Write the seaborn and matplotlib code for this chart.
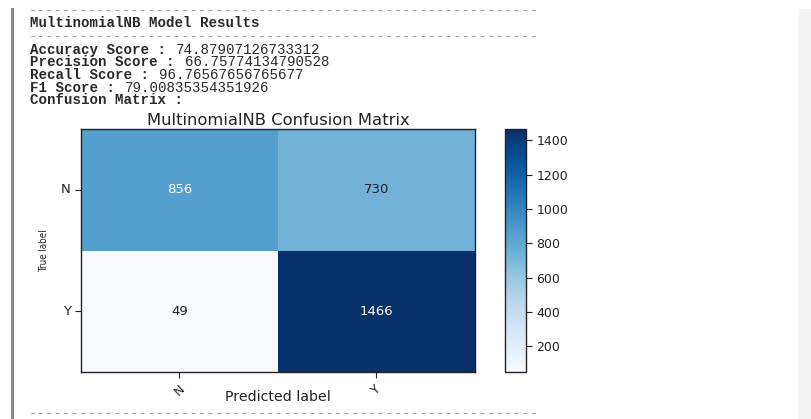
import numpy as np
import pandas as pd
import matplotlib
matplotlib.use("Agg")
import matplotlib.pyplot as plt
from matplotlib.patches import Rectangle
from matplotlib import font_manager
import seaborn as sns

labels = ["N", "Y"]
cm_values = [[856, 730],
             [49, 1466]]
metric_names = ["Accuracy Score", "Precision Score", "Recall Score", "F1 Score"]
metric_values = ["74.87907126733312", "66.75774134790528", "96.76567656765677", "79.00835354351926"]
model_name = "MultinomialNB"

W, H = 812, 419
fig = plt.figure(figsize=(W / 100, H / 100), dpi=100)
fig.patch.set_facecolor("white")

def fx(px):
    return px / W

def fy(py):
    return 1 - py / H

# notebook decorations
fig.add_artist(Rectangle((fx(11), 0), fx(2.5), fy(8), transform=fig.transFigure,
                         facecolor="#8a8a8a", edgecolor="none"))
fig.add_artist(Rectangle((fx(799), 0), fx(13), fy(9), transform=fig.transFigure,
                         facecolor="#f2f2f2", edgecolor="none"))

mono = ["Liberation Mono", "DejaVu Sans Mono"]
tcol = "#2a2a2a"
fs = 10.2
cw = 8.6
dash = "-" * 60
dcol = "#a0a0a0"
fig.text(fx(29), fy(10), dash, family=mono, fontsize=fs, color=dcol, va="center")
fig.text(fx(30), fy(23), f"{model_name} Model Results", family=mono, fontsize=fs,
         fontweight="bold", color=tcol, va="center")
fig.text(fx(29), fy(36), dash, family=mono, fontsize=fs, color=dcol, va="center")
ys = [50, 62.5, 75, 87.5]
for y, n, v in zip(ys, metric_names, metric_values):
    fig.text(fx(30), fy(y), n + " : ", family=mono, fontsize=fs, fontweight="bold",
             color=tcol, va="center")
    fig.text(fx(30 + cw * (len(n) + 3)), fy(y), v, family=mono, fontsize=fs,
             color=tcol, va="center")
fig.text(fx(30), fy(100), "Confusion Matrix :", family=mono, fontsize=fs,
         fontweight="bold", color=tcol, va="center")
fig.text(fx(29), fy(413), dash, family=mono, fontsize=fs, color=dcol, va="center")

# heatmap
ax = fig.add_axes([fx(81), fy(372), fx(475) - fx(81), fy(129) - fy(372)])
cax = fig.add_axes([fx(505), fy(372), fx(526) - fx(505), fy(129) - fy(372)])
df = pd.DataFrame(cm_values, index=labels, columns=labels)
sns.heatmap(df, ax=ax, cbar_ax=cax, cmap="Blues", annot=True, fmt="d",
            annot_kws={"fontsize": 9.5})
arr = np.array(cm_values)
thresh = arr.max() / 2
for t, v in zip(ax.texts, arr.flatten()):
    t.set_color("white" if v > thresh else "#222222")

for s in ax.spines.values():
    s.set_visible(True)
    s.set_color("#222222")
    s.set_linewidth(1)
cbar = ax.collections[0].colorbar
cbar.outline.set_visible(True)
cbar.outline.set_linewidth(1)
cbar.outline.set_edgecolor("#222222")
cbar.set_ticks([200, 400, 600, 800, 1000, 1200, 1400])
cax.tick_params(labelsize=9, length=4, colors="#222222")

ax.set_title(f"{model_name} Confusion Matrix", fontsize=11.8, color="#222222", pad=3)
ax.set_xticklabels(labels, rotation=45, fontsize=9)
ax.set_yticklabels(labels, rotation=0, fontsize=9.5)
ax.tick_params(length=4, colors="#222222")
ax.set_xlabel("Predicted label", fontsize=10.2, color="#222222")
ax.xaxis.set_label_coords(0.5, -0.075)

names = {f.name for f in font_manager.fontManager.ttflist}
if "Liberation Sans Narrow" in names:
    yl_family, yl_size = "Liberation Sans Narrow", 9
else:
    yl_family, yl_size = "DejaVu Sans", 7
ax.set_ylabel("True label", fontsize=yl_size, family=yl_family,
              fontstretch="condensed", color="#222222")
ax.yaxis.set_label_coords(-0.082, 0.5)

fig.savefig("out.png", dpi=100)
